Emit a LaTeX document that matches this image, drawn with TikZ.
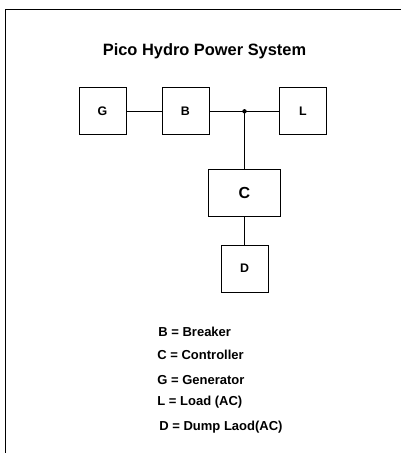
\documentclass[tikz,border=0pt]{standalone}
\usepackage{fontspec}
\setmainfont{Liberation Sans}
\begin{document}
\begin{tikzpicture}[x=1pt, y=-1pt, line width=0.8pt,
    block/.style={draw, inner sep=0pt, minimum width=47pt, minimum height=47pt,
        font=\fontsize{12.4}{14}\selectfont\bfseries},
    legend/.style={anchor=west, inner sep=0pt, font=\fontsize{13}{15}\selectfont\bfseries}]
    \useasboundingbox (0, 0) rectangle (401, 453);
    % frame
    \draw (5, 453) -- (5, 9) -- (401, 9);

    \node[font=\fontsize{16.4}{19}\selectfont\bfseries] (title) at (204.5, 51.7) {Pico Hydro Power System};

    % blocks
    \node[block] (G) at (102.5, 111.3) {G};
    \node[block] (B) at (185.4, 111.3) {B};
    \node[block] (L) at (303, 111.3) {L};
    \node[block, minimum width=72.6pt, font=\fontsize{16}{18}\selectfont\bfseries] (C) at (244.5, 193.2) {C};
    \node[block] (D) at (244.5, 268.5) {D};
    \coordinate (J) at (244.5, 111.3);

    \draw (G) -- (B);
    \draw (B) -- (J) -- (L);
    \draw (J) -- (C);
    \draw (C) -- (D);
    \fill (J) circle (2.2pt);

    % legend
    \node[legend] (lb) at (158, 331.7) {B = Breaker};
    \node[legend] (lc) at (157, 355) {C = Controller};
    \node[legend] (lg) at (157, 380) {G = Generator};
    \node[legend] (ll) at (157, 402) {L = Load (AC)};
    \node[legend] (ld) at (159, 426.7) {D = Dump Laod(AC)};
\end{tikzpicture}
\end{document}
